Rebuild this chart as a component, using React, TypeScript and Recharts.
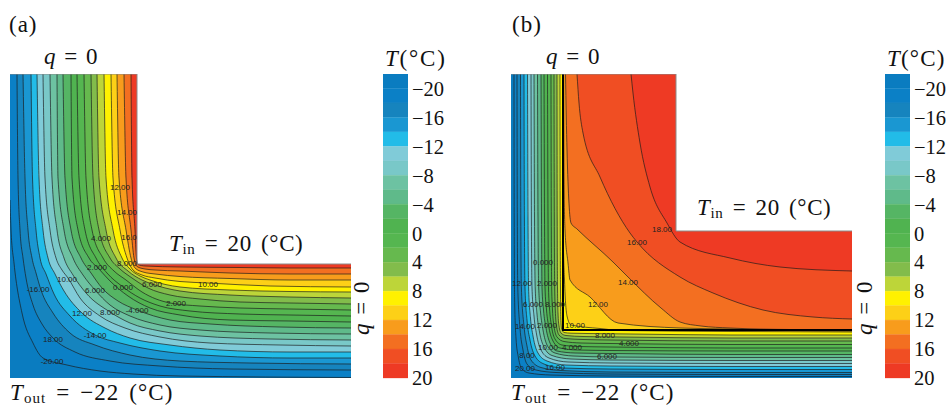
import React from 'react'
import { Area, ComposedChart, Line, ReferenceDot, XAxis, YAxis } from 'recharts'

type Pt = number[]

// colour of each 2 degree band, coldest (-22..-20) first
const bandColors = [
  '#0a7cc0', '#0b80c6', '#1684be', '#1a97d2', '#22bce8', '#80cbd8', '#79c8c8',
  '#6dc2a2', '#5fba8a', '#55b564', '#50b350', '#55b650', '#66b94e', '#82bc4b',
  '#bdd539', '#fff100', '#fdd017', '#f89c1c', '#f36f21', '#f04e23', '#ee3a24',
]
const bandEdges = [-22, -20, -18, -16, -14, -12, -10, -8, -6, -4, -2, 0, 2, 4, 6, 8, 10, 12, 14, 16, 18, 20]
const barTicks = [-20, -16, -12, -8, -4, 0, 4, 8, 12, 16, 20]

// panel size in plot units
const widthUnits = 341
const heightUnits = 304

const outlineA: Pt[] = [[0, 304], [127, 304], [127, 114], [341, 114]]
const outlineB: Pt[] = [[0, 304], [165, 304], [165, 147], [341, 147]]
const interfaceB: Pt[] = [[52, 304], [52, 48], [341, 48]]

// isotherms of panel (a), hottest first
const levelsA = [16, 14, 12, 10, 8, 6, 4, 2, 0, -2, -4, -6, -8, -10, -12, -14, -16, -18, -20]
const contoursA: Pt[][] = [
  [[121, 304], [122, 200], [125, 148], [126.3, 122], [128, 113.5], [135, 112], [170, 111], [230, 110.5], [280, 110], [341, 110]],
  [[114, 304], [116, 200], [121, 148], [124, 120], [127, 111.5], [135, 109], [145, 108], [170, 107], [220, 105], [280, 104], [341, 104]],
  [[107, 304], [109, 200], [116, 148], [121, 120], [125, 110], [133, 106], [145, 104], [170, 101.5], [220, 99.5], [280, 98], [341, 98]],
  [[101, 304], [103, 200], [110, 148], [117, 120], [123, 108], [132, 103], [145, 100], [170, 96.5], [198, 95], [260, 92], [341, 91]],
  [[94, 304], [96, 200], [103, 148], [112, 120], [120, 109], [130, 102], [140, 98], [170, 91], [220, 88], [280, 86.5], [341, 86]],
  [[87, 304], [89, 200], [96, 148], [106, 120], [118, 107], [132, 98], [142, 94], [170, 87], [220, 83], [280, 81], [341, 80]],
  [[81, 304], [83, 200], [89, 148], [100, 120], [110, 109], [122, 100], [138, 90], [160, 83], [190, 79], [230, 76], [280, 75], [341, 74]],
  [[74, 304], [76, 200], [82, 148], [93, 120], [104, 107], [116, 98], [132, 86], [160, 75], [190, 72], [230, 70], [280, 69], [341, 68]],
  [[67, 304], [69, 200], [75, 148], [86, 120], [97, 105], [113, 91], [130, 80], [150, 72], [180, 67], [230, 64], [280, 63], [341, 62]],
  [[61, 304], [62, 200], [68, 148], [79, 120], [89, 109], [100, 97], [118, 82], [140, 70], [170, 63], [220, 58], [280, 57], [341, 56]],
  [[53, 304], [55, 200], [61, 148], [71, 120], [81, 105], [92, 90], [108, 77], [127, 68], [160, 58], [200, 54], [270, 51], [341, 50]],
  [[47, 304], [48, 200], [54, 148], [63, 120], [73, 103], [85, 88], [100, 73], [120, 62], [150, 53], [190, 48], [260, 45], [341, 44]],
  [[40, 304], [42, 200], [47, 148], [54, 120], [63, 103], [76, 85], [100, 66], [120, 55], [150, 47], [190, 42], [260, 39], [341, 38]],
  [[33, 304], [35, 200], [40, 148], [46, 120], [52, 108], [58, 100], [70, 80], [90, 62], [115, 50], [150, 41], [200, 35], [270, 33], [341, 32]],
  [[27, 304], [29, 200], [33, 148], [38, 120], [45, 104], [54, 87], [72, 65], [95, 50], [120, 40], [160, 33], [210, 28], [280, 26], [341, 26]],
  [[21, 304], [22.5, 200], [26, 148], [30, 120], [36, 104], [44, 84], [60, 62], [85, 43], [110, 35], [150, 27], [210, 22], [280, 20], [341, 20]],
  [[13, 304], [15, 200], [18, 148], [22, 120], [26, 105], [31, 88], [43, 65], [60, 45], [85, 33], [120, 23], [170, 17], [240, 15], [341, 14]],
  [[7, 304], [8, 200], [10, 148], [13, 120], [16, 100], [23, 73], [32, 54], [43, 40], [65, 26], [100, 17], [150, 12], [220, 9], [341, 8]],
  [[0, 178], [1, 148], [4, 115], [12, 65], [23, 35], [33, 20], [57, 13], [90, 7], [123, 4], [170, 2], [341, 0.5]],
]

// isotherms of panel (b), hottest first
const levelsB = [18, 16, 14, 12, 10, 8, 6, 4, 2, 0, -2, -4, -6, -8, -10, -12, -14, -16, -18, -20]
const contoursB: Pt[][] = [
  [[120, 304], [122, 285], [129, 235], [139, 191], [156, 155], [169, 136], [219, 120], [269, 111], [341, 107]],
  [[66, 304], [68, 275], [72, 245], [89, 201], [119, 145], [126, 136], [169, 101], [202, 85], [252, 68], [302, 61], [341, 59]],
  [[54.5, 304], [56, 228], [60, 155], [66, 149], [102, 116], [117, 101], [150, 70], [169, 56], [190, 52], [219, 50], [279, 48.5], [341, 48.2]],
  [[52.6, 304], [53, 200], [54, 148], [57, 115], [59, 98], [79, 81], [107, 55], [169, 50], [219, 49], [279, 47.5], [341, 47]],
  [[52.2, 304], [52.3, 140], [53.5, 98], [56, 62], [60, 53], [89, 49.5], [110, 47.5], [220, 46.5], [341, 46]],
  [[49, 304], [49.2, 160], [49.5, 90], [49.8, 60], [50.5, 50], [53, 45.5], [60, 44.8], [76, 44.5], [120, 44], [220, 43], [341, 43]],
  [[46, 304], [46.2, 160], [46.5, 90], [47, 65], [48, 52], [50, 45], [55, 42.5], [72, 41.5], [110, 41], [220, 40], [341, 40]],
  [[43, 304], [43.3, 160], [43.7, 90], [44.3, 68], [45.5, 52], [48, 43], [54, 39.5], [72, 38.5], [100, 38], [220, 37], [341, 37]],
  [[40, 304], [40.3, 160], [40.7, 90], [41.5, 68], [43, 52], [46, 41], [53, 36.5], [70, 35], [100, 34.5], [220, 33.5], [341, 33.5]],
  [[36.5, 304], [37, 160], [37.5, 90], [38.5, 70], [40.5, 52], [44, 39], [51, 33], [68, 31.5], [100, 31], [220, 30], [341, 30]],
  [[33, 304], [33.5, 160], [34, 90], [35.5, 68], [38, 50], [42, 37], [49, 30], [66, 28], [100, 27.5], [220, 27], [341, 27]],
  [[30, 304], [30.5, 160], [31, 90], [32.5, 68], [35, 50], [39, 35], [46, 27], [64, 25], [100, 24.5], [220, 23.5], [341, 23.5]],
  [[26.5, 304], [27, 160], [27.7, 90], [29.5, 66], [32, 48], [36, 33], [44, 25], [62, 22], [100, 21], [220, 20.5], [341, 20.5]],
  [[23, 304], [23.5, 160], [24.2, 90], [26, 64], [28.5, 46], [33, 31], [41, 22.5], [60, 19], [100, 18], [220, 17.5], [341, 17.5]],
  [[20, 304], [20.4, 160], [21, 90], [23, 62], [25.5, 44], [30, 28], [38, 20], [57, 16], [100, 15], [220, 14.5], [341, 14.5]],
  [[16.5, 304], [17, 160], [17.6, 90], [19.5, 60], [22, 42], [27, 25], [36, 17], [55, 13], [100, 12], [220, 11.5], [341, 11.5]],
  [[13, 304], [13.4, 160], [14, 90], [16, 58], [19, 38], [24, 22], [33, 14], [52, 10], [100, 9], [220, 8.5], [341, 8.5]],
  [[9.5, 304], [9.8, 160], [10.4, 90], [13, 52], [16, 32], [20, 18], [30, 10.5], [50, 7.5], [100, 6], [220, 5.5], [341, 5.5]],
  [[6, 304], [6.3, 160], [6.8, 90], [9, 50], [12, 28], [16, 14], [25, 8], [45, 5.5], [100, 4], [220, 3.5], [341, 3.5]],
  [[3, 304], [3.2, 160], [3.6, 80], [5, 40], [7.5, 20], [11, 9], [18, 5], [40, 3], [100, 2], [220, 1.5], [341, 1.5]],
]

// contour labels as printed on the plots: x, y, text
const labelsA: [number, number, string][] = [
  [110, 191, '12.00'], [117, 166, '14.00'], [91, 140, '4.000'], [119, 141, '16.0'], [87, 111, '2.000'],
  [117, 115, '8.000'], [198, 94, '10.00'], [57, 99, '10.00'], [28, 89, '-16.00'], [85, 88, '6.000'],
  [113, 91, '0.000'], [142, 94, '6.000'], [166, 75, '2.000'], [72, 65, '12.00'], [100, 66, '8.000'],
  [127, 68, '-4.000'], [85, 43, '-14.00'], [43, 39, '18.00'], [42, 17, '-20.00'],
]
const labelsB: [number, number, string][] = [
  [151, 149, '18.00'], [126, 136, '16.00'], [117, 96, '14.00'], [87, 74, '12.00'], [32, 116, '0.000'],
  [11, 95, '12.00'], [36, 95, '2.000'], [22, 74, '6.000'], [44, 74, '8.000'], [14, 52, '14.00'],
  [36, 53, '2.000'], [64, 53, '10.00'], [94, 43, '8.000'], [118, 35, '4.000'], [37, 31, '10.00'],
  [61, 31, '4.000'], [96, 22, '6.000'], [16, 23, '8.00'], [44, 11, '16.00'], [14, 10, '20.00'],
]

const serif = '"Liberation Serif", serif'
const toRows = (pts: Pt[]) => pts.map(([x, y]) => ({ x, y }))

function levelColor(level: number) {
  // the area under an isotherm takes the colour of the band just below it
  return bandColors[(level + 22) / 2 - 1]
}

function ContourPanel({ left, outline, levels, contours, labels, extra }: {
  left: number
  outline: Pt[]
  levels: number[]
  contours: Pt[][]
  labels: [number, number, string][]
  extra?: Pt[]
}) {
  return (
    <ComposedChart
      width={widthUnits}
      height={heightUnits}
      margin={{ top: 0, right: 0, bottom: 0, left: 0 }}
      style={{ position: 'absolute', left, top: 74 }}
    >
      <XAxis type="number" dataKey="x" domain={[0, widthUnits]} hide />
      <YAxis type="number" dataKey="y" domain={[0, heightUnits]} hide />
      <Area
        data={toRows(outline)}
        dataKey="y"
        type="linear"
        fill={bandColors[20]}
        fillOpacity={1}
        stroke="none"
        isAnimationActive={false}
      />
      {contours.map((pts, i) => (
        <Area
          key={`fill-${levels[i]}`}
          data={toRows(pts[0][0] > 0 ? [[0, heightUnits], ...pts] : pts)}
          dataKey="y"
          type="monotone"
          fill={levelColor(levels[i])}
          fillOpacity={1}
          stroke="none"
          isAnimationActive={false}
        />
      ))}
      {contours.map((pts, i) => (
        <Line
          key={`line-${levels[i]}`}
          data={toRows(pts)}
          dataKey="y"
          type="monotone"
          stroke="#1a1a1a"
          strokeWidth={0.8}
          strokeOpacity={0.85}
          dot={false}
          isAnimationActive={false}
        />
      ))}
      {extra && (
        <Line
          data={toRows(extra)}
          dataKey="y"
          type="linear"
          stroke="#000"
          strokeWidth={2}
          dot={false}
          isAnimationActive={false}
        />
      )}
      <Line
        data={toRows(outline)}
        dataKey="y"
        type="linear"
        stroke="#8a8a8a"
        strokeWidth={1}
        dot={false}
        isAnimationActive={false}
      />
      {labels.map(([x, y, text], i) => (
        <ReferenceDot
          key={`label-${i}`}
          x={x}
          y={y}
          r={0}
          stroke="none"
          ifOverflow="visible"
          label={{ value: text, position: 'center', fontSize: 8, fill: '#222', fontFamily: '"Liberation Sans", sans-serif' }}
        />
      ))}
    </ComposedChart>
  )
}

function ColorBar({ left }: { left: number }) {
  return (
    <ComposedChart
      width={61}
      height={heightUnits + 14}
      margin={{ top: 0, right: 0, bottom: 14, left: 0 }}
      style={{ position: 'absolute', left, top: 74 }}
    >
      <XAxis type="number" dataKey="x" domain={[0, 1]} hide />
      <YAxis
        type="number"
        orientation="right"
        width={36}
        reversed
        domain={[-22, 20]}
        ticks={barTicks}
        interval={0}
        axisLine={false}
        tickLine={false}
        tickSize={0}
        tickMargin={4}
        tickFormatter={(v: number) => String(v).replace('-', '\u2212')}
        tick={{ fontSize: 20.5, fill: '#111', fontFamily: serif }}
      />
      {bandColors.map((color, i) => (
        <Area
          key={color}
          data={[
            { x: 0, range: [bandEdges[i], bandEdges[i + 1]] },
            { x: 1, range: [bandEdges[i], bandEdges[i + 1]] },
          ]}
          dataKey="range"
          type="linear"
          fill={color}
          fillOpacity={1}
          stroke={color}
          strokeWidth={0.3}
          isAnimationActive={false}
        />
      ))}
    </ComposedChart>
  )
}

function Note({ x, y, children, rotate, spacing = 0.5 }: {
  x: number
  y: number
  children: React.ReactNode
  rotate?: boolean
  spacing?: number
}) {
  return (
    <div
      style={{
        position: 'absolute',
        left: x,
        top: y,
        fontFamily: serif,
        fontSize: 23,
        lineHeight: '24px',
        letterSpacing: spacing,
        color: '#111',
        whiteSpace: 'nowrap',
        wordSpacing: 3,
        transform: rotate ? 'rotate(-90deg)' : undefined,
        transformOrigin: 'left top',
      }}
    >
      {children}
    </div>
  )
}

const Sub = ({ children }: { children: string }) => (
  <sub style={{ fontSize: 15, lineHeight: 0, verticalAlign: -3 }}>{children}</sub>
)

const qZero = <><i>q</i> = 0</>
const tUnit = <><i>T</i>(°C)</>
const tIn = <><i>T</i><Sub>in</Sub> = 20 (°C)</>
const tOut = <><i>T</i><Sub>out</Sub> = −22 (°C)</>

export default function App() {
  return (
    <div style={{ position: 'absolute', left: 0, top: 0, width: 946, height: 406, background: '#fff', overflow: 'hidden' }}>
      <ContourPanel left={10} outline={outlineA} levels={levelsA} contours={contoursA} labels={labelsA} />
      <ContourPanel left={511} outline={outlineB} levels={levelsB} contours={contoursB} labels={labelsB} extra={interfaceB} />
      <ColorBar left={383} />
      <ColorBar left={885} />

      <Note x={9} y={13} spacing={1}>(a)</Note>
      <Note x={44} y={45} spacing={0}>{qZero}</Note>
      <Note x={385} y={47} spacing={1.8}>{tUnit}</Note>
      <Note x={169} y={232} spacing={0.6}>{tIn}</Note>
      <Note x={10} y={381} spacing={1.1}>{tOut}</Note>
      <Note x={350} y={335} rotate spacing={0}>{qZero}</Note>

      <Note x={512} y={13} spacing={1}>(b)</Note>
      <Note x={546} y={45} spacing={0}>{qZero}</Note>
      <Note x={887} y={47} spacing={1.2}>{tUnit}</Note>
      <Note x={697} y={196} spacing={0.6}>{tIn}</Note>
      <Note x={511} y={381} spacing={1.1}>{tOut}</Note>
      <Note x={853} y={335} rotate spacing={0}>{qZero}</Note>
    </div>
  )
}
